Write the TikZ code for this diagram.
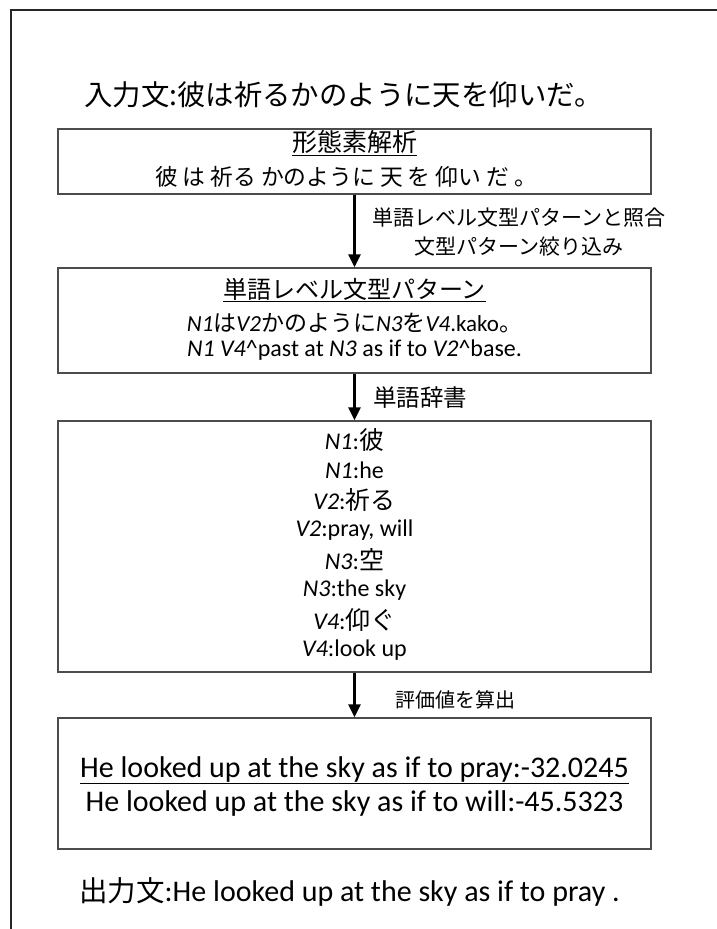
\documentclass[tikz,border=0pt]{standalone}
\usepackage{fontspec}
\setmainfont{Carlito}
\newfontfamily\jp{Noto Sans CJK JP}
\usetikzlibrary{arrows.meta}
\newcommand{\fs}[1]{\fontsize{#1}{#1}\selectfont}
\begin{document}
\begin{tikzpicture}[x=1pt,y=-1pt,
  box/.style={draw=black!70, line width=1.4pt, minimum width=593pt, inner sep=0pt},
  txt/.style={inner sep=0pt, anchor=center},
  arr/.style={line width=2.6pt, -{Triangle[width=12pt,length=13pt]}},
  frameline/.style={line width=2pt, draw=black!85}]
\useasboundingbox (0,0) rectangle (717,929);
% frame
\coordinate (ftr) at (717,9.5);
\coordinate (ftl) at (10.5,9.5);
\coordinate (fbl) at (10.5,929);
\draw[frameline] (ftr) -- (ftl) -- (fbl);
% title
\node[txt, anchor=west] (title) at (84,95) {\jp\fs{28.4}入力文:彼は祈るかのように天を仰いだ。};
% boxes
\node[box, minimum height=65pt] (b1) at (354.5,161.5) {};
\node[box, minimum height=105pt] (b2) at (354.5,320.5) {};
\node[box, minimum height=251pt] (b3) at (354.5,546.5) {};
\node[box, minimum height=131pt] (b4) at (354.5,783.5) {};
% box 1 text
\node[txt] (b1h) at (354.5,143) {\jp\fs{25}\underline{形態素解析}};
\node[txt] (b1l) at (346,177) {\jp\fs{22.8}彼\hspace{5pt}は\hspace{5pt}祈る\hspace{5pt}かのように\hspace{5pt}天\hspace{5pt}を\hspace{5pt}仰い\hspace{5pt}だ\hspace{5pt}。};
% box 2 text
\node[txt] (b2h) at (354.5,290) {\jp\fs{24}\underline{単語レベル文型パターン}};
\node[txt] (b2l) at (354.5,323) {\fs{23}\textit{N1}{\jp は}\textit{V2}{\jp かのように}\textit{N3}{\jp を}\textit{V4}.kako{\jp 。}};
\node[txt] (b2e) at (354.5,350) {\fs{24}\textit{N1} \textit{V4}\^{}past at \textit{N3} as if to \textit{V2}\^{}base.};
% box 3 text
\foreach \t [count=\i from 0] in {{\textit{N1}:{\jp\fs{25}彼}},{\textit{N1}:he},{\textit{V2}:{\jp\fs{25}祈る}},{\textit{V2}:pray, will},{\textit{N3}:{\jp\fs{25}空}},{\textit{N3}:the sky},{\textit{V4}:{\jp\fs{25}仰ぐ}},{\textit{V4}:look up}}
  \node[txt] (b3l\i) at (354.5,440+30*\i) {\fs{24}\t};
% box 4 text
\node[txt] (b4a) at (354.5,770) {\fs{30}\underline{He looked up at the sky as if to pray:-32.0245}};
\node[txt] (b4b) at (354.5,803) {\fs{30}He looked up at the sky as if to will:-45.5323};
% arrows
\draw[arr] (b1.south) -- (b2.north);
\draw[arr] (b2.south) -- (b3.north);
\draw[arr] (b3.south) -- (b4.north);
% arrow labels
\node[txt] (l1a) at (519,218) {\jp\fs{21}単語レベル文型パターンと照合};
\node[txt] (l1b) at (519,247) {\jp\fs{21}文型パターン絞り込み};
\node[txt, anchor=west] (l2) at (373,398) {\jp\fs{23.5}単語辞書};
\node[txt, anchor=west] (l3) at (395,700) {\jp\fs{20}評価値を算出};
% output
\node[txt, anchor=west] (out) at (79,892) {\fs{30}{\jp\fs{28.5}出力文}:He looked up at the sky as if to pray .};
\end{tikzpicture}
\end{document}
